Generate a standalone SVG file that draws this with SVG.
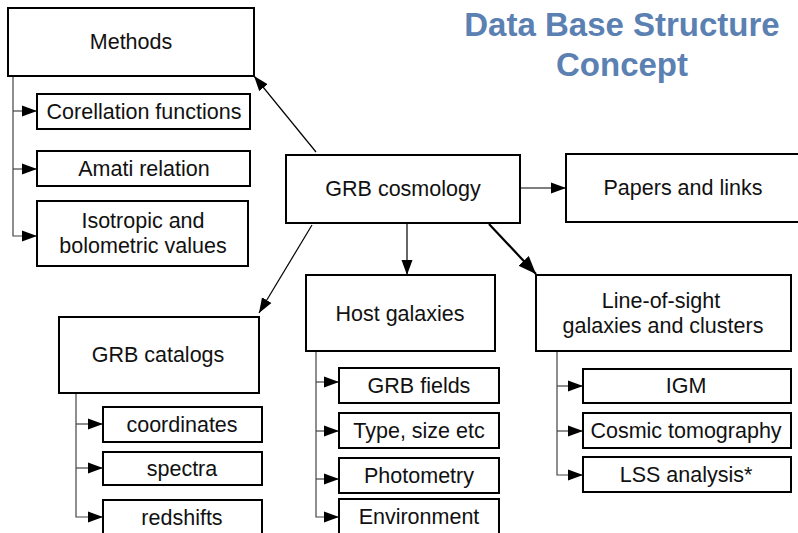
<svg xmlns="http://www.w3.org/2000/svg" width="798" height="533" viewBox="0 0 798 533">
<style>
.box{fill:#fff;stroke:#000;stroke-width:2}
.t{font-family:"Liberation Sans",Arial,sans-serif;font-size:21.5px;fill:#111;text-anchor:middle}
.title{font-family:"Liberation Sans",Arial,sans-serif;font-size:33px;font-weight:bold;fill:#5b80b2;text-anchor:middle}
.c{fill:none;stroke:#000;stroke-width:1.2}
.tr{fill:none;stroke:#444;stroke-width:1.2}
</style>
<defs>
<marker id="ah" markerUnits="userSpaceOnUse" markerWidth="15" markerHeight="12" refX="15" refY="6" orient="auto">
<path d="M0,0.5 L15,6 L0,11.5 z" fill="#000"/>
</marker>
<marker id="ahb" markerUnits="userSpaceOnUse" markerWidth="18" markerHeight="14" refX="18" refY="7" orient="auto">
<path d="M0,0 L18,7 L0,14 z" fill="#000"/>
</marker>
</defs>
<rect width="798" height="533" fill="#fff"/>
<g id="title">
<text class="title" x="622" y="36">Data Base Structure</text>
<text class="title" x="622" y="76">Concept</text>
</g>
<g id="connectors">
<line class="c" x1="316" y1="152" x2="254" y2="76" marker-end="url(#ah)"/>
<line class="c" x1="312" y1="225" x2="259" y2="313" marker-end="url(#ah)"/>
<line class="c" x1="407" y1="223" x2="407" y2="275" marker-end="url(#ah)"/>
<line x1="489" y1="224" x2="536" y2="274" stroke="#000" stroke-width="2.2" marker-end="url(#ahb)"/>
<line class="c" x1="520" y1="188" x2="566" y2="188" marker-end="url(#ah)"/>
<polyline class="tr" points="13,76 13,236 37,236" marker-end="url(#ah)"/>
<line class="tr" x1="13" y1="111" x2="37" y2="111" marker-end="url(#ah)"/>
<line class="tr" x1="13" y1="169" x2="37" y2="169" marker-end="url(#ah)"/>
<polyline class="tr" points="76,390 76,517 103,517" marker-end="url(#ah)"/>
<line class="tr" x1="76" y1="424" x2="103" y2="424" marker-end="url(#ah)"/>
<line class="tr" x1="76" y1="468" x2="103" y2="468" marker-end="url(#ah)"/>
<polyline class="tr" points="316,351 316,517 339,517" marker-end="url(#ah)"/>
<line class="tr" x1="316" y1="382" x2="339" y2="382" marker-end="url(#ah)"/>
<line class="tr" x1="316" y1="431" x2="339" y2="431" marker-end="url(#ah)"/>
<line class="tr" x1="316" y1="479" x2="339" y2="479" marker-end="url(#ah)"/>
<polyline class="tr" points="557,351 557,475 583,475" marker-end="url(#ah)"/>
<line class="tr" x1="557" y1="386" x2="583" y2="386" marker-end="url(#ah)"/>
<line class="tr" x1="557" y1="431" x2="583" y2="431" marker-end="url(#ah)"/>
</g>
<g id="methods"><rect class="box" x="8" y="8" width="246" height="68"/><text class="t" x="131" y="49">Methods</text></g>
<g id="corellation"><rect class="box" x="37" y="94" width="213" height="35"/><text class="t" x="144" y="119">Corellation functions</text></g>
<g id="amati"><rect class="box" x="37" y="151" width="213" height="35"/><text class="t" x="144" y="176">Amati relation</text></g>
<g id="isotropic"><rect class="box" x="37" y="201" width="211" height="65"/><text class="t" x="143" y="228">Isotropic and</text><text class="t" x="143" y="253">bolometric values</text></g>
<g id="grb-cosmology"><rect class="box" x="286" y="155" width="234" height="68"/><text class="t" x="403" y="196">GRB cosmology</text></g>
<g id="papers"><rect class="box" x="566" y="154" width="236" height="68"/><text class="t" x="683" y="195">Papers and links</text></g>
<g id="grb-catalogs"><rect class="box" x="59" y="317" width="200" height="76"/><text class="t" x="158" y="362">GRB catalogs</text></g>
<g id="coordinates"><rect class="box" x="103" y="407" width="159" height="35"/><text class="t" x="182" y="432">coordinates</text></g>
<g id="spectra"><rect class="box" x="103" y="452" width="159" height="33"/><text class="t" x="182" y="476">spectra</text></g>
<g id="redshifts"><rect class="box" x="103" y="500" width="159" height="40"/><text class="t" x="182" y="525">redshifts</text></g>
<g id="host-galaxies"><rect class="box" x="306" y="275" width="189" height="76"/><text class="t" x="400" y="321">Host galaxies</text></g>
<g id="grb-fields"><rect class="box" x="339" y="368" width="160" height="35"/><text class="t" x="419" y="393">GRB fields</text></g>
<g id="type-size"><rect class="box" x="339" y="413" width="160" height="35"/><text class="t" x="419" y="438">Type, size etc</text></g>
<g id="photometry"><rect class="box" x="339" y="458" width="160" height="35"/><text class="t" x="419" y="483">Photometry</text></g>
<g id="environment"><rect class="box" x="339" y="499" width="160" height="40"/><text class="t" x="419" y="524">Environment</text></g>
<g id="line-of-sight"><rect class="box" x="536" y="275" width="255" height="76"/><text class="t" x="661" y="308">Line-of-sight</text><text class="t" x="663" y="333">galaxies and clusters</text></g>
<g id="igm"><rect class="box" x="583" y="369" width="208" height="34"/><text class="t" x="686" y="393">IGM</text></g>
<g id="cosmic-tomography"><rect class="box" x="583" y="413" width="208" height="35"/><text class="t" x="686" y="438">Cosmic tomography</text></g>
<g id="lss"><rect class="box" x="583" y="457" width="208" height="35"/><text class="t" x="686" y="482">LSS analysis*</text></g>
</svg>
